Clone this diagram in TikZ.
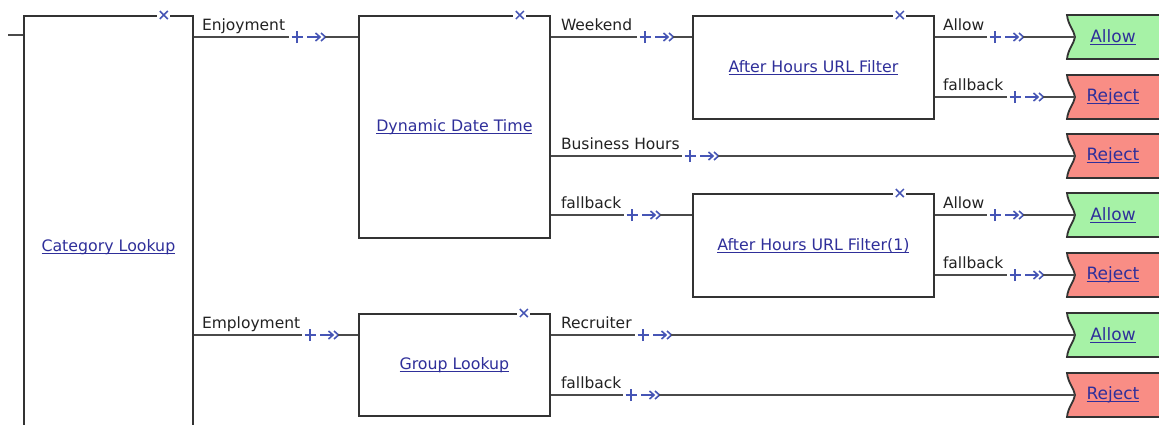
\documentclass[tikz,border=0pt]{standalone}
\usepackage{fontspec}
\setmainfont{DejaVu Sans}
\usetikzlibrary{calc}

\definecolor{wirec}{HTML}{4A4A4A}
\definecolor{edgec}{HTML}{333333}
\definecolor{markc}{HTML}{4655B5}
\definecolor{linkc}{HTML}{2F2F9A}
\definecolor{lblc}{HTML}{222222}
\definecolor{okfill}{HTML}{A6F2A6}
\definecolor{nofill}{HTML}{F98D85}

% underlined hyperlink-style text
\newcommand\lnk[1]{\setbox0\hbox{#1}\rlap{\rule[-2.6pt]{\wd0}{1.1pt}}\box0}

\tikzset{
  stepbox/.style={draw=edgec, line width=1.8pt, fill=white, anchor=north west,
    inner sep=0pt, text=linkc, font=\fontsize{15.8}{19}\selectfont},
  wire/.style={draw=wirec, line width=2pt},
  gate/.style={draw=markc, line width=1.6pt},
  portlbl/.style={anchor=base west, inner sep=0pt, text=lblc,
    font=\fontsize{15.5}{18}\selectfont},
  outtxt/.style={inner sep=0pt, text=linkc, font=\fontsize{17}{20}\selectfont},
}

% connector with the "+ ->>" marker drawn at point #2
\newcommand\wirerun[3]{%
  \draw[wire] (#1) -- ([xshift=-8pt]#2);
  \draw[gate] ([xshift=-5.5pt]#2) -- ([xshift=5.5pt]#2)
              ([yshift=-6pt]#2) -- ([yshift=6pt]#2);
  \draw[gate] ([xshift=10pt]#2) -- ([xshift=23pt]#2);
  \draw[gate] ([xshift=18.5pt,yshift=4pt]#2) -- ([xshift=23pt]#2) -- ([xshift=18.5pt,yshift=-4pt]#2);
  \draw[gate] ([xshift=24pt,yshift=4pt]#2) -- ([xshift=28.5pt]#2) -- ([xshift=24pt,yshift=-4pt]#2);
  \draw[wire] ([xshift=28pt]#2) -- (#3);
}

% small close mark sitting on a box's top edge
\newcommand\closer[1]{%
  \fill[white] ($(#1)+(-6.5,-4)$) rectangle ($(#1)+(6.5,4)$);
  \draw[gate, line width=1.5pt] ($(#1)+(-4,-4)$) -- ($(#1)+(4,4)$)
                                ($(#1)+(-4,4)$) -- ($(#1)+(4,-4)$);
}

% terminal tag with notched left edge: name, centre y, fill, text
\newcommand\outcome[4]{%
  \path[draw=edgec, line width=1.8pt, fill=#3]
    (1067,#2-22) .. controls (1068,#2-12) and (1074,#2-7) .. (1075,#2)
    .. controls (1074,#2+7) and (1068,#2+12) .. (1067,#2+22)
    -- (1175,#2+22) -- (1175,#2-22) -- cycle;
  \coordinate (#1-in) at (1075,#2);
  \node[outtxt] (#1) at (1113,#2) {\lnk{#4}};
}

\begin{document}
\begin{tikzpicture}[x=1pt, y=-1pt]
  \clip (0,0) rectangle (1159,424);
  \fill[white] (0,0) rectangle (1159,424);

  % decision boxes
  \node[stepbox, minimum width=169pt, minimum height=462pt] (cat) at (23,15) {\lnk{Category Lookup}};
  \node[stepbox, minimum width=191pt, minimum height=222pt] (ddt) at (358,15) {\lnk{Dynamic Date Time}};
  \node[stepbox, minimum width=241pt, minimum height=103pt] (ahf) at (692,15) {\lnk{After Hours URL Filter}};
  \node[stepbox, minimum width=241pt, minimum height=103pt] (ahf1) at (692,193) {\lnk{After Hours URL Filter(1)}};
  \node[stepbox, minimum width=191pt, minimum height=102pt] (grp) at (358,313) {\lnk{Group Lookup}};

  \closer{$(cat.north east)+(-30,0)$}
  \closer{$(ddt.north east)+(-31,0)$}
  \closer{$(ahf.north east)+(-35,0)$}
  \closer{$(ahf1.north east)+(-35,0)$}
  \closer{$(grp.north east)+(-27,0)$}

  % incoming stub
  \coordinate (entry) at (8,35);
  \draw[wire] (entry) -- (cat.west |- entry);

  % terminal tags
  \outcome{allowA}{37}{okfill}{Allow}
  \outcome{rejectA}{97}{nofill}{Reject}
  \outcome{rejectB}{156}{nofill}{Reject}
  \outcome{allowB}{215}{okfill}{Allow}
  \outcome{rejectC}{275}{nofill}{Reject}
  \outcome{allowC}{335}{okfill}{Allow}
  \outcome{rejectD}{395}{nofill}{Reject}

  % marker positions
  \coordinate (g1) at (297,37);
  \coordinate (g2) at (310,335);
  \coordinate (g3) at (645,37);
  \coordinate (g4) at (690,156);
  \coordinate (g5) at (632,215);
  \coordinate (g6) at (995,37);
  \coordinate (g7) at (1015,97);
  \coordinate (g8) at (995,215);
  \coordinate (g9) at (1015,275);
  \coordinate (g10) at (643,335);
  \coordinate (g11) at (631,395);

  % connectors
  \wirerun{cat.east |- g1}{g1}{ddt.west |- g1}
  \wirerun{cat.east |- g2}{g2}{grp.west |- g2}
  \wirerun{ddt.east |- g3}{g3}{ahf.west |- g3}
  \wirerun{ddt.east |- g4}{g4}{rejectB-in}
  \wirerun{ddt.east |- g5}{g5}{ahf1.west |- g5}
  \wirerun{ahf.east |- g6}{g6}{allowA-in}
  \wirerun{ahf.east |- g7}{g7}{rejectA-in}
  \wirerun{ahf1.east |- g8}{g8}{allowB-in}
  \wirerun{ahf1.east |- g9}{g9}{rejectC-in}
  \wirerun{grp.east |- g10}{g10}{allowC-in}
  \wirerun{grp.east |- g11}{g11}{rejectD-in}

  % branch labels
  \node[portlbl] (l1) at ($(cat.east |- g1)+(8,-7)$) {Enjoyment};
  \node[portlbl] (l2) at ($(cat.east |- g2)+(8,-7)$) {Employment};
  \node[portlbl] (l3) at ($(ddt.east |- g3)+(10,-7)$) {Weekend};
  \node[portlbl] (l4) at ($(ddt.east |- g4)+(10,-7)$) {Business Hours};
  \node[portlbl] (l5) at ($(ddt.east |- g5)+(10,-7)$) {fallback};
  \node[portlbl] (l6) at ($(ahf.east |- g6)+(8,-7)$) {Allow};
  \node[portlbl] (l7) at ($(ahf.east |- g7)+(8,-7)$) {fallback};
  \node[portlbl] (l8) at ($(ahf1.east |- g8)+(8,-7)$) {Allow};
  \node[portlbl] (l9) at ($(ahf1.east |- g9)+(8,-7)$) {fallback};
  \node[portlbl] (l10) at ($(grp.east |- g10)+(10,-7)$) {Recruiter};
  \node[portlbl] (l11) at ($(grp.east |- g11)+(10,-7)$) {fallback};
\end{tikzpicture}
\end{document}
